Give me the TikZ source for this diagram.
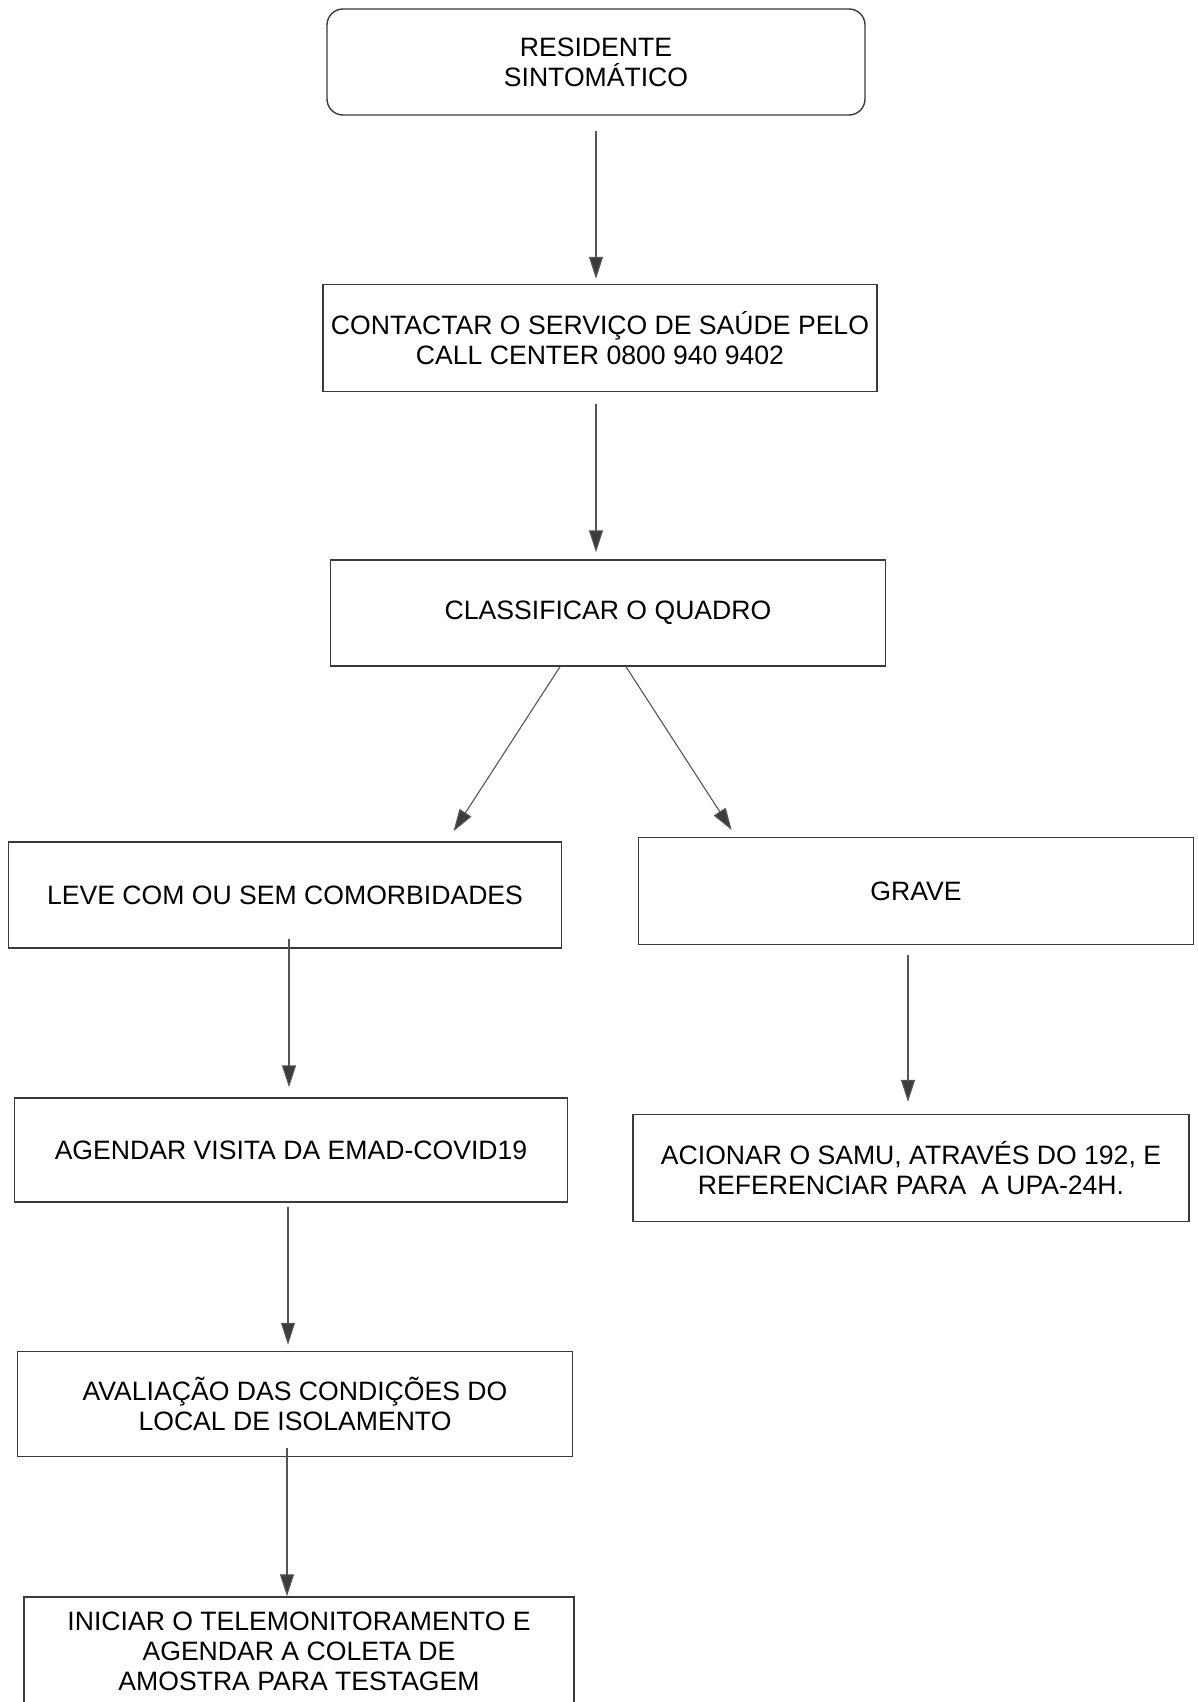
\documentclass[tikz,border=0pt]{standalone}
\usepackage{fontspec}
\setmainfont{Liberation Sans}
\usetikzlibrary{arrows.meta,calc}

\definecolor{boxline}{HTML}{3A3A3A}
\definecolor{arrline}{HTML}{555555}
\definecolor{arrhead}{HTML}{3C3C3C}

\tikzset{
  passo/.style={draw=boxline, line width=1.4pt, inner sep=0pt, align=center,
    font=\fontsize{26.6}{30}\selectfont},
  inicio/.style={passo, rounded corners=16pt},
  seta/.style={draw=arrline, line width=1.1pt,
    -{Triangle[length=22pt,width=14pt,fill=arrhead]}}
}

\begin{document}
\begin{tikzpicture}[x=1pt, y=-1pt]
    \useasboundingbox (0,0) rectangle (1197,1702);

    \node[inicio, minimum width=538pt, minimum height=106pt](res) at (596,62)
      {RESIDENTE\\SINTOMÁTICO};
    \node[passo, minimum width=554pt, minimum height=107pt](contato) at (600,338)
      {CONTACTAR O SERVIÇO DE SAÚDE PELO\\CALL CENTER 0800 940 9402};
    \node[passo, minimum width=555pt, minimum height=106pt](quadro) at (608,613)
      {CLASSIFICAR O QUADRO};
    \node[passo, minimum width=553pt, minimum height=106pt](leve) at (285,895)
      {LEVE COM OU SEM COMORBIDADES};
    \node[passo, minimum width=555pt, minimum height=107pt](grave) at (916,891)
      {GRAVE};
    \node[passo, minimum width=553pt, minimum height=104pt](visita) at (291,1150)
      {AGENDAR VISITA DA EMAD-COVID19};
    \node[passo, minimum width=556pt, minimum height=107pt](samu) at (911,1168)
      {ACIONAR O SAMU, ATRAVÉS DO 192, E\\REFERENCIAR PARA \ A UPA-24H.};
    \node[passo, minimum width=555pt, minimum height=105pt](aval) at (295,1404)
      {AVALIAÇÃO DAS CONDIÇÕES DO\\LOCAL DE ISOLAMENTO};
    \node[passo, minimum width=550pt, minimum height=108pt](tele) at (299,1651)
      {INICIAR O TELEMONITORAMENTO E\\AGENDAR A COLETA DE\\AMOSTRA PARA TESTAGEM};

    \draw[seta, shorten <=15pt, shorten >=5pt] (res.south) -- (res.south |- contato.north);
    \draw[seta, shorten <=12pt, shorten >=7pt] ([xshift=-4pt]contato.south) -- ([xshift=-4pt]contato.south |- quadro.north);
    \draw[seta, shorten >=12pt] ([xshift=-48pt]quadro.south) -- ([xshift=162pt]leve.north);
    \draw[seta, shorten >=8pt] ([xshift=18pt]quadro.south) -- ([xshift=-180pt]grave.north);
    \draw[seta, shorten <=-10pt, shorten >=10pt] ([xshift=4pt]leve.south) -- ([xshift=4pt]leve.south |- visita.north);
    \draw[seta, shorten <=10pt, shorten >=12pt] ([xshift=-8pt]grave.south) -- ([xshift=-8pt]grave.south |- samu.north);
    \draw[seta, shorten <=4pt, shorten >=6pt] ([xshift=-3pt]visita.south) -- ([xshift=-3pt]visita.south |- aval.north);
    \draw[seta, shorten <=-9pt, shorten >=0pt] ([xshift=-8pt]aval.south) -- ([xshift=-8pt]aval.south |- tele.north);
\end{tikzpicture}
\end{document}
